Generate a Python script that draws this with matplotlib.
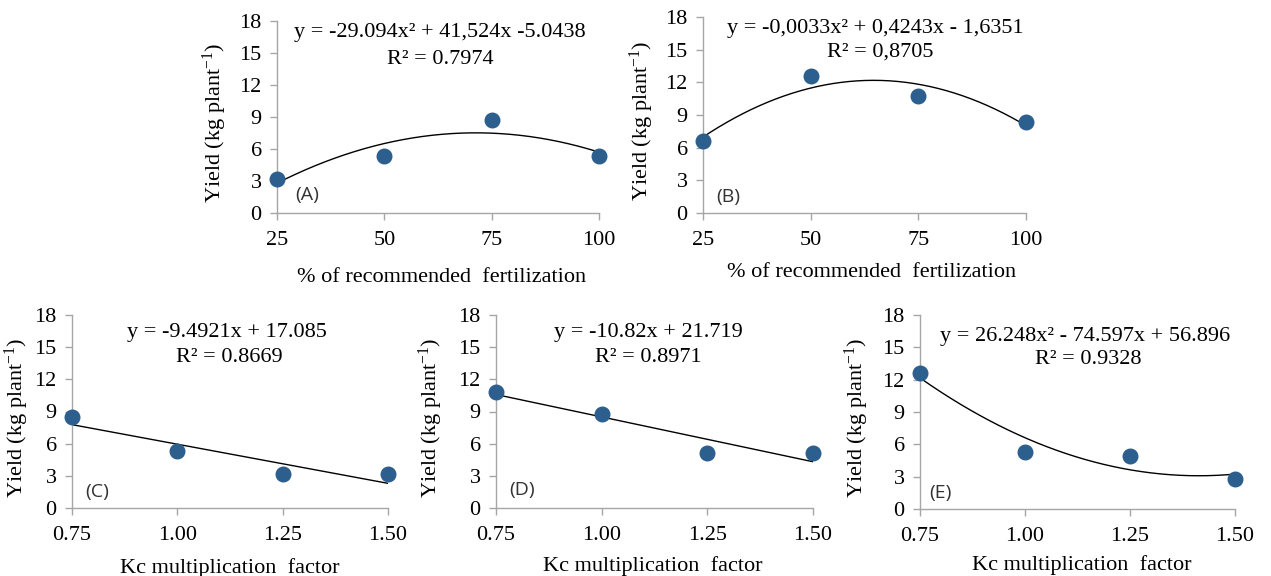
import matplotlib
matplotlib.use('Agg')
import matplotlib.pyplot as plt
import numpy as np

plt.rcParams['font.family'] = ['Liberation Serif', 'DejaVu Serif']
plt.rcParams['mathtext.fontset'] = 'custom'
plt.rcParams['mathtext.rm'] = 'Liberation Serif'
plt.rcParams['mathtext.it'] = 'Liberation Serif:italic'

W, H = 1271, 576

# data
fert = [25, 50, 75, 100]
kc = [0.75, 1.00, 1.25, 1.50]
kc_labels = ['0.75', '1.00', '1.25', '1.50']
yield_A = [3.2, 5.3, 8.7, 5.3]
yield_B = [6.6, 12.6, 10.7, 8.4]
yield_C = [8.5, 5.35, 3.15, 3.15]
yield_D = [10.85, 8.75, 5.1, 5.1]
yield_E = [12.6, 5.3, 4.95, 2.8]
yticks = [0, 3, 6, 9, 12, 15, 18]

eq_A = ['y = -29.094x² + 41,524x -5.0438', 'R² = 0.7974']
eq_B = ['y = -0,0033x² + 0,4243x - 1,6351', 'R² = 0,8705']
eq_C = ['y = -9.4921x + 17.085', 'R² = 0.8669']
eq_D = ['y = -10.82x + 21.719', 'R² = 0.8971']
eq_E = ['y = 26.248x² - 74.597x + 56.896', 'R² = 0.9328']

dot_color = '#2C5E8E'
spine_color = '#A6A6A6'


def px_axes(l, t, r, b):
    return [l / W, 1 - b / H, (r - l) / W, (b - t) / H]


fig = plt.figure(figsize=(W / 100, H / 100), dpi=100)

panels = [
    # box, x, y, deg, xticklabels, xlabel, eq, eq pos(px), tag, tag pos, ylabel x centre(px), xlabel pos
    ((277, 21, 599, 213), fert, yield_A, 2, [str(v) for v in fert],
     '% of recommended  fertilization', eq_A, (440, 33, 440, 60), '(A)', (307, 195), 215, (442, 277)),
    ((703, 17, 1026, 213), fert, yield_B, 2, [str(v) for v in fert],
     '% of recommended  fertilization', eq_B, (875, 28, 880, 52), '(B)', (728, 197), 642, (872, 273)),
    ((72, 315, 388, 508), kc, yield_C, 1, kc_labels,
     'Kc multiplication  factor', eq_C, (227, 333, 229, 358), '(C)', (97, 492), 17, (230, 568)),
    ((496, 315, 813, 508), kc, yield_D, 1, kc_labels,
     'Kc multiplication  factor', eq_D, (648, 333, 648, 358), '(D)', (522, 490), 431, (653, 566)),
    ((920, 315, 1235, 509), kc, yield_E, 2, kc_labels,
     'Kc multiplication  factor', eq_E, (1085, 337, 1088, 360), '(E)', (940, 493), 857, (1082, 565)),
]

for box, x, y, deg, xtl, xlab, eq, eqpos, tag, tagpos, ylx, xlpos in panels:
    ax = fig.add_axes(px_axes(*box))
    # trendline (least squares fit of the points)
    coef = np.polyfit(x, y, deg)
    xs = np.linspace(min(x), max(x), 200)
    ax.plot(xs, np.polyval(coef, xs), color='black', lw=1.0, zorder=2)
    ax.scatter(x, y, s=110, color=dot_color, zorder=3, clip_on=False)

    ax.set_xlim(min(x), max(x))
    ax.set_ylim(0, 18)
    ax.set_xticks(x)
    ax.set_xticklabels(xtl)
    ax.set_yticks(yticks)
    for s in ['top', 'right']:
        ax.spines[s].set_visible(False)
    for s in ['left', 'bottom']:
        ax.spines[s].set_color(spine_color)
        ax.spines[s].set_linewidth(1.0)
    ax.tick_params(axis='both', colors=spine_color, labelcolor='black', labelsize=16,
                   length=5, width=1.0)
    ax.tick_params(axis='x', pad=8)
    ax.tick_params(axis='y', pad=6)

    ax.set_ylabel('Yield (kg plant$^{-1}$)', fontsize=16, va='center')
    ax.yaxis.set_label_coords((ylx - box[0]) / (box[2] - box[0]), 0.47)

    fig.text(xlpos[0] / W, 1 - xlpos[1] / H, xlab, fontsize=16, ha='center', va='center')
    fig.text(eqpos[0] / W, 1 - eqpos[1] / H, eq[0], fontsize=16, ha='center', va='center')
    fig.text(eqpos[2] / W, 1 - eqpos[3] / H, eq[1], fontsize=16, ha='center', va='center')
    fig.text(tagpos[0] / W, 1 - tagpos[1] / H, tag, fontsize=14, ha='center', va='center',
             color='#333333', family=['Open Sans', 'DejaVu Sans'])

fig.savefig('out.png', dpi=100)
